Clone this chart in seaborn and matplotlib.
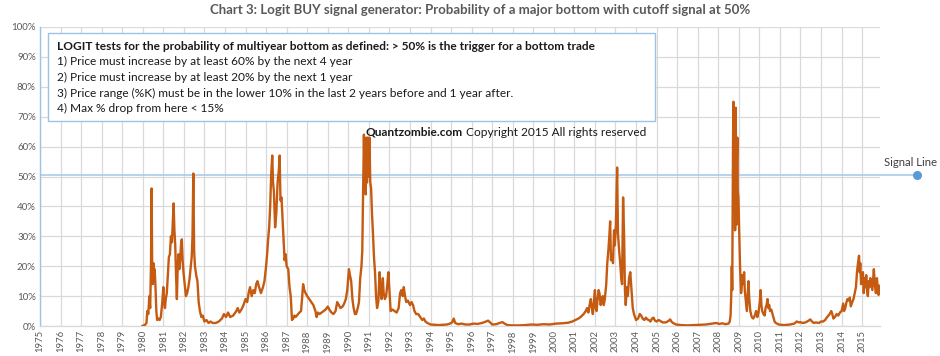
import matplotlib
matplotlib.use("Agg")
import matplotlib.pyplot as plt
import seaborn as sns
import pandas as pd
from matplotlib.patches import Rectangle

# ---------------- data ----------------
dates = [
    1979.97, 1980.10, 1980.18, 1980.22, 1980.27, 1980.32, 1980.36, 1980.40, 1980.43, 1980.46,
    1980.49, 1980.52, 1980.55, 1980.58, 1980.62, 1980.66, 1980.70, 1980.76, 1980.82, 1980.88,
    1980.95, 1981.00, 1981.04, 1981.08, 1981.12, 1981.17, 1981.22, 1981.27, 1981.32, 1981.37,
    1981.42, 1981.47, 1981.50, 1981.54, 1981.58, 1981.62, 1981.66, 1981.70, 1981.74, 1981.78,
    1981.82, 1981.86, 1981.90, 1981.94, 1981.98, 1982.04, 1982.10, 1982.16, 1982.22, 1982.28,
    1982.34, 1982.38, 1982.42, 1982.46, 1982.50, 1982.54, 1982.60, 1982.66, 1982.72, 1982.78,
    1982.85, 1982.92, 1983.00, 1983.10, 1983.20, 1983.30, 1983.40, 1983.55, 1983.70, 1983.85,
    1983.95, 1984.05, 1984.15, 1984.25, 1984.40, 1984.55, 1984.62, 1984.70, 1984.80, 1984.90,
    1985.00, 1985.08, 1985.15, 1985.22, 1985.30, 1985.38, 1985.45, 1985.52, 1985.58, 1985.66,
    1985.75, 1985.85, 1985.92, 1986.00, 1986.05, 1986.10, 1986.15, 1986.20, 1986.25, 1986.30,
    1986.34, 1986.38, 1986.44, 1986.50, 1986.56, 1986.62, 1986.66, 1986.70, 1986.75, 1986.80,
    1986.85, 1986.90, 1986.95, 1987.00, 1987.08, 1987.14, 1987.20, 1987.26, 1987.32, 1987.38,
    1987.44, 1987.50, 1987.56, 1987.62, 1987.70, 1987.76, 1987.80, 1987.86, 1987.92, 1988.00,
    1988.10, 1988.20, 1988.30, 1988.40, 1988.46, 1988.52, 1988.60, 1988.70, 1988.80, 1988.90,
    1989.00, 1989.08, 1989.18, 1989.28, 1989.38, 1989.46, 1989.54, 1989.62, 1989.72, 1989.80,
    1989.88, 1989.95, 1990.03, 1990.08, 1990.14, 1990.20, 1990.26, 1990.32, 1990.38, 1990.46,
    1990.52, 1990.58, 1990.64, 1990.68, 1990.72, 1990.76, 1990.79, 1990.82, 1990.85, 1990.88,
    1990.91, 1990.95, 1990.99, 1991.03, 1991.07, 1991.11, 1991.15, 1991.20, 1991.25, 1991.30,
    1991.35, 1991.40, 1991.46, 1991.52, 1991.56, 1991.62, 1991.68, 1991.72, 1991.78, 1991.84,
    1991.90, 1991.95, 1992.00, 1992.06, 1992.15, 1992.25, 1992.35, 1992.45, 1992.52, 1992.58,
    1992.65, 1992.70, 1992.76, 1992.82, 1992.90, 1993.00, 1993.08, 1993.15, 1993.22, 1993.30,
    1993.40, 1993.50, 1993.60, 1993.68, 1993.75, 1993.85, 1994.00, 1994.20, 1994.40, 1994.60,
    1994.80, 1994.95, 1995.05, 1995.13, 1995.20, 1995.35, 1995.50, 1995.70, 1995.90, 1996.10,
    1996.30, 1996.50, 1996.70, 1996.80, 1996.90, 1997.00, 1997.20, 1997.35, 1997.50, 1997.60,
    1997.75, 1998.00, 1998.30, 1998.60, 1998.90, 1999.20, 1999.50, 1999.80, 2000.10, 2000.40,
    2000.70, 2000.90, 2001.05, 2001.20, 2001.30, 2001.45, 2001.55, 2001.62, 2001.68, 2001.74,
    2001.80, 2001.85, 2001.90, 2001.95, 2002.00, 2002.04, 2002.08, 2002.13, 2002.18, 2002.22,
    2002.28, 2002.33, 2002.38, 2002.43, 2002.48, 2002.55, 2002.60, 2002.65, 2002.70, 2002.74,
    2002.78, 2002.83, 2002.88, 2002.93, 2002.97, 2003.02, 2003.08, 2003.12, 2003.18, 2003.23,
    2003.28, 2003.32, 2003.37, 2003.42, 2003.46, 2003.50, 2003.55, 2003.60, 2003.66, 2003.72,
    2003.78, 2003.84, 2003.90, 2004.00, 2004.10, 2004.18, 2004.25, 2004.32, 2004.40, 2004.48,
    2004.55, 2004.62, 2004.70, 2004.78, 2004.85, 2004.92, 2005.00, 2005.10, 2005.20, 2005.30,
    2005.45, 2005.58, 2005.66, 2005.72, 2005.80, 2005.95, 2006.20, 2006.50, 2006.80, 2007.10,
    2007.40, 2007.70, 2007.90, 2008.05, 2008.20, 2008.35, 2008.50, 2008.56, 2008.60, 2008.63,
    2008.66, 2008.68, 2008.70, 2008.72, 2008.74, 2008.76, 2008.78, 2008.80, 2008.82, 2008.85,
    2008.87, 2008.89, 2008.91, 2008.93, 2008.95, 2008.98, 2009.01, 2009.03, 2009.06, 2009.09,
    2009.11, 2009.14, 2009.17, 2009.20, 2009.23, 2009.26, 2009.29, 2009.32, 2009.36, 2009.39,
    2009.43, 2009.47, 2009.51, 2009.56, 2009.63, 2009.70, 2009.78, 2009.84, 2009.90, 2009.96,
    2010.02, 2010.06, 2010.10, 2010.14, 2010.20, 2010.26, 2010.30, 2010.35, 2010.40, 2010.44,
    2010.48, 2010.52, 2010.58, 2010.64, 2010.68, 2010.74, 2010.80, 2010.95, 2011.20, 2011.50,
    2011.70, 2011.82, 2011.92, 2012.00, 2012.10, 2012.25, 2012.40, 2012.48, 2012.56, 2012.65,
    2012.75, 2012.90, 2013.00, 2013.10, 2013.20, 2013.30, 2013.40, 2013.50, 2013.55, 2013.60,
    2013.68, 2013.76, 2013.84, 2013.92, 2014.00, 2014.08, 2014.12, 2014.18, 2014.24, 2014.29,
    2014.34, 2014.40, 2014.45, 2014.52, 2014.58, 2014.64, 2014.70, 2014.75, 2014.80, 2014.85,
    2014.88, 2014.91, 2014.95, 2015.00, 2015.04, 2015.08, 2015.12, 2015.16, 2015.20, 2015.24,
    2015.28, 2015.32, 2015.36, 2015.40, 2015.45, 2015.50, 2015.54, 2015.57, 2015.62, 2015.67,
    2015.72, 2015.77, 2015.80, 2015.84, 2015.87,
]
probability = [
    0, 0.3, 1, 5, 4, 10, 6, 20, 46, 18,
    14, 21, 15, 19, 13, 5, 2, 2.5, 2, 3,
    8, 13, 8, 6, 9, 11, 17, 23, 24, 30,
    28, 36, 41, 32, 27, 17, 9, 20, 24, 19,
    22, 27, 29, 22, 18, 14, 10, 11, 13, 16,
    20, 23, 30, 51, 25, 20, 17, 15, 8, 5,
    3, 3.5, 1.5, 2, 1, 1.5, 1, 1, 1.5, 2.5,
    4, 3, 4.5, 3, 3.5, 5, 6, 4.5, 5.5, 7,
    9, 8, 11, 13, 10, 12, 11, 14, 15, 13,
    11, 13, 15, 20, 24, 29, 33, 40, 51, 57,
    48, 45, 33, 38, 48, 52, 57, 42, 43, 36,
    29, 22, 24, 20, 19, 13, 10, 2, 2.5, 3.5,
    3, 3.5, 4, 4.5, 5, 10, 14, 12, 11, 10,
    9, 8, 7, 5, 3, 4.5, 4, 4.5, 5, 5.5,
    6.5, 5.5, 4.5, 4, 5, 8, 7, 6, 6.5, 7.5,
    9, 12, 19, 17, 15, 9, 6, 4, 4, 6,
    8, 16, 20, 25, 45, 64, 50, 60, 44, 63,
    48, 63, 50, 63, 48, 46, 38, 31, 23, 18,
    10, 6, 8, 18, 12, 9, 16, 11, 9, 10,
    14, 18, 12, 5, 5.5, 5, 4.5, 6, 11, 12,
    10, 13, 10, 8, 8.5, 7, 8, 7, 5, 4,
    4, 3, 2, 2.5, 1.5, 1, 0.5, 0.4, 0.3, 0.4,
    0.5, 0.8, 1.2, 2.5, 1, 0.6, 0.8, 0.5, 0.5, 0.8,
    0.7, 1.0, 1.5, 1.8, 1.2, 0.5, 0.6, 1.0, 1.3, 0.8,
    0.3, 0.2, 0.2, 0.3, 0.5, 0.4, 0.6, 0.5, 0.8, 0.9,
    1.1, 1.5, 2, 2.5, 3, 4, 5, 6, 4.5, 7,
    9, 6, 4, 8, 12, 6, 5, 9, 12, 11,
    7, 9, 10, 7, 9, 14, 21, 25, 30, 35,
    22, 24, 21, 32, 27, 34, 53, 31, 25, 21,
    16, 14, 43, 30, 12, 7, 13, 10, 16, 18,
    12, 6, 4, 2, 2.5, 4, 3.5, 2.5, 2, 2.8,
    2.2, 2.0, 1.5, 2.5, 2.8, 1.8, 1.5, 2, 1.6, 1.2,
    1.2, 1.7, 2.2, 1.5, 1.0, 0.5, 0.3, 0.2, 0.3, 0.4,
    0.5, 0.8, 1.0, 0.7, 0.9, 0.6, 0.8, 1.5, 3.5, 10,
    20, 12, 40, 62, 75, 50, 45, 70, 32, 73,
    50, 34, 55, 63, 45, 43, 34, 28, 20, 14,
    11, 13, 17, 14, 16, 18, 12, 10, 7, 5,
    10, 15, 9, 5, 3, 2.5, 3.5, 5, 3, 4.5,
    8, 12, 7, 5, 4, 3.5, 6, 7, 9, 6,
    7, 5, 5.5, 4, 3, 1.5, 1, 0.5, 0.3, 0.5,
    0.8, 1.5, 1.2, 1.3, 1.0, 1.2, 1.8, 2.2, 1.5, 1.0,
    1.2, 1.0, 1.5, 1.5, 2, 3, 3.8, 5, 4, 2.5,
    3, 4, 3.5, 4.5, 5, 7.5, 5, 6, 8, 9,
    8.5, 9.5, 6.6, 8, 9, 11, 13, 18, 21, 23.5,
    18, 21, 14, 17, 18, 11, 16, 13, 17, 12,
    10, 15, 13, 16, 14, 12, 16, 19, 14, 11,
    16, 12, 10.4, 13.5, 13,
]
year_ticks = list(range(1975, 2016))
pct_ticks = list(range(0, 101, 10))
signal_level = 50.5
signal_end = 2017.66

title = "Chart 3: Logit BUY signal generator: Probability of a major bottom with cutoff signal at 50%"
box_head = "LOGIT tests for the probability of multiyear bottom as defined: > 50% is the trigger for a bottom trade"
box_lines = [
    "1) Price must increase by at least 60% by the next 4 year",
    "2) Price must increase by at least 20% by the next 1 year",
    "3) Price range (%K) must be in the lower 10% in the last 2 years before and 1 year after.",
    "4) Max % drop from here < 15%",
]

# ---------------- style ----------------
sns.set_theme(style="white")
plt.rcParams["font.family"] = ["Lato", "DejaVu Sans"]

W, H = 940, 356
fig = plt.figure(figsize=(W / 100, H / 100), dpi=100)
ax = fig.add_axes([40 / W, 1 - 326 / H, 840 / W, 299 / H])

df = pd.DataFrame({"year": dates, "prob": probability})
sns.lineplot(data=df, x="year", y="prob", ax=ax, color="#C55A11", linewidth=1.7,
             sort=False, estimator=None, zorder=3)

# signal line (extends past the plot area, dot at end)
ax.plot([1975, signal_end], [signal_level, signal_level], color="#A9CBEA", lw=1.2,
        clip_on=False, zorder=2, solid_capstyle="butt")
ax.plot([signal_end], [signal_level], "o", color="#5B9BD5", ms=5.5, clip_on=False, zorder=4)
fig.text(937 / W, 1 - 163 / H, "Signal Line", fontsize=8.2, color="#404040",
         ha="right", va="center")

ax.set_xlim(1975, 2015.87)
ax.set_ylim(0, 100)
ax.set_xticks(year_ticks)
ax.set_xticklabels([str(y) for y in year_ticks], rotation=90, fontsize=6.8, color="#595959")
ax.set_yticks(pct_ticks)
ax.set_yticklabels([f"{p}%" for p in pct_ticks], fontsize=7, color="#595959")
ax.tick_params(axis="both", length=0, pad=3)
ax.set_xlabel("")
ax.set_ylabel("")
ax.grid(True, color="#D9D9D9", lw=0.9, zorder=0)
ax.set_axisbelow(True)
for s in ["top", "right"]:
    ax.spines[s].set_visible(False)
ax.spines["left"].set_color("#9DC3E6")
ax.spines["left"].set_linewidth(1.0)
ax.spines["bottom"].set_color("#D9D9D9")
ax.spines["bottom"].set_linewidth(0.9)

# title
fig.text(480 / W, 1 - 10 / H, title, ha="center", va="center", fontsize=9.5,
         color="#595959", fontweight="bold")

# text box
fig.patches.append(Rectangle((48 / W, 1 - 121 / H), 607 / W, 88 / H, transform=fig.transFigure,
                             facecolor="white", edgecolor="#9DC3E6", lw=1.0, zorder=5))
fig.text(57 / W, 1 - 46 / H, box_head, ha="left", va="center", fontsize=8.6,
         fontweight="bold", color="#1a1a1a", zorder=6)
for i, line in enumerate(box_lines):
    fig.text(57 / W, 1 - (61.8 + 15.6 * i) / H, line, ha="left", va="center", fontsize=8.6,
             color="#1a1a1a", zorder=6)

# copyright
t1 = fig.text(365 / W, 1 - 132 / H, "Quantzombie.com", ha="left", va="center", fontsize=8.6,
              fontweight="bold", color="#1a1a1a")
fig.canvas.draw()
bb = t1.get_window_extent()
fig.text((bb.x1 + 4) / W, 1 - 132 / H, "Copyright 2015 All rights reserved", ha="left",
         va="center", fontsize=8.6, color="#1a1a1a")

fig.savefig("out.png", dpi=100, facecolor="white")
